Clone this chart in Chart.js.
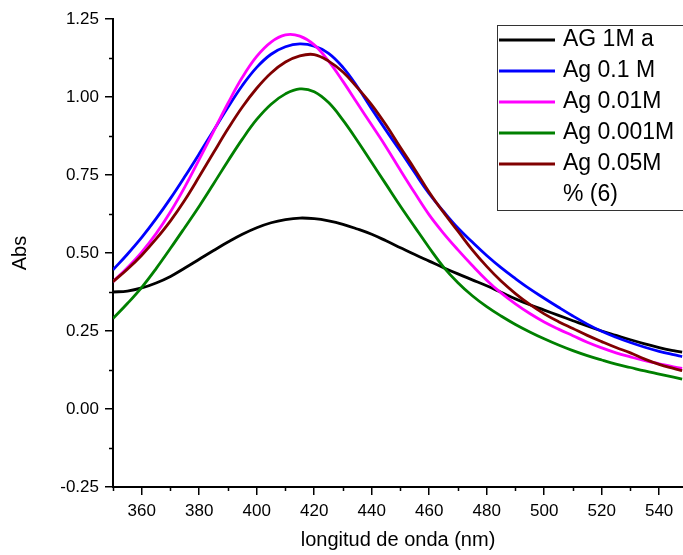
<!DOCTYPE html>
<html>
<head>
<meta charset="utf-8">
<script src="https://cdn.jsdelivr.net/npm/chart.js@4.4.1/dist/chart.umd.min.js"></script>
<style>
  body { margin: 0; background: #fff; }
  #wrap { width: 683px; height: 555px; position: relative; }
</style>
</head>
<body>
<div id="wrap"><canvas id="absChart"></canvas></div>
<script>
const longitud = [350, 355, 360, 365, 370, 375, 380, 385, 390, 395, 400, 405, 410, 415, 420, 425, 430, 435, 440, 445,
  450, 455, 460, 465, 470, 475, 480, 485, 490, 495, 500, 505, 510, 515, 520, 525, 530, 535, 540, 545, 548];

const ag1Ma = [0.375, 0.378, 0.388, 0.404, 0.425, 0.452, 0.480, 0.508, 0.535, 0.560, 0.581, 0.597, 0.607, 0.612, 0.610, 0.603, 0.592, 0.577, 0.560, 0.539,
  0.517, 0.495, 0.474, 0.453, 0.433, 0.414, 0.395, 0.374, 0.353, 0.334, 0.317, 0.300, 0.283, 0.266, 0.250, 0.236, 0.222, 0.209, 0.197, 0.187, 0.182];
const ag01M = [0.446, 0.496, 0.550, 0.610, 0.675, 0.745, 0.818, 0.893, 0.967, 1.037, 1.095, 1.137, 1.161, 1.170, 1.163, 1.140, 1.095, 1.033, 0.962, 0.893,
  0.826, 0.757, 0.690, 0.633, 0.580, 0.535, 0.492, 0.453, 0.418, 0.385, 0.355, 0.326, 0.298, 0.272, 0.249, 0.230, 0.213, 0.198, 0.185, 0.174, 0.168];
const ag001M = [0.408, 0.453, 0.503, 0.562, 0.632, 0.712, 0.800, 0.890, 0.980, 1.063, 1.130, 1.176, 1.199, 1.195, 1.167, 1.115, 1.050, 0.980, 0.910, 0.840,
  0.765, 0.692, 0.622, 0.563, 0.510, 0.460, 0.413, 0.372, 0.337, 0.306, 0.279, 0.256, 0.235, 0.214, 0.196, 0.180, 0.167, 0.155, 0.145, 0.135, 0.130];
const ag0001M = [0.290, 0.338, 0.390, 0.450, 0.515, 0.582, 0.650, 0.722, 0.795, 0.865, 0.928, 0.977, 1.010, 1.026, 1.017, 0.982, 0.926, 0.860, 0.790, 0.720,
  0.650, 0.583, 0.517, 0.455, 0.405, 0.363, 0.328, 0.298, 0.271, 0.247, 0.225, 0.205, 0.187, 0.171, 0.157, 0.144, 0.133, 0.122, 0.112, 0.102, 0.096];
const ag005M = [0.408, 0.448, 0.493, 0.545, 0.603, 0.670, 0.745, 0.822, 0.898, 0.968, 1.028, 1.077, 1.112, 1.132, 1.136, 1.115, 1.080, 1.030, 0.975, 0.910,
  0.838, 0.768, 0.695, 0.630, 0.570, 0.510, 0.457, 0.410, 0.370, 0.335, 0.305, 0.280, 0.258, 0.236, 0.216, 0.197, 0.180, 0.160, 0.143, 0.130, 0.123];

const xTicks = [360, 380, 400, 420, 440, 460, 480, 500, 520, 540];
const xMinor = [350, 370, 390, 410, 430, 450, 470, 490, 510, 530];
const yTicks = [-0.25, 0, 0.25, 0.5, 0.75, 1.0, 1.25];
const yMinor = [-0.125, 0.125, 0.375, 0.625, 0.875, 1.125];

const nombres = ["AG 1M a", "Ag 0.1 M", "Ag 0.01M", "Ag 0.001M", ["Ag 0.05M", "% (6)"]];
const colores = ["#000000", "#0000ff", "#ff00ff", "#008000", "#800000"];
const series = [ag1Ma, ag01M, ag001M, ag0001M, ag005M];

const fuente = 'Arial, "Liberation Sans", sans-serif';

// ticks menores (el eje de Chart.js solo dibuja los mayores)
const minorTicks = {
  id: 'minorTicks',
  afterDraw(chart) {
    const ctx = chart.ctx;
    const xs = chart.scales.x, ys = chart.scales.y;
    ctx.save();
    ctx.strokeStyle = '#000';
    ctx.lineWidth = 1.5;
    ctx.beginPath();
    xMinor.forEach(v => {
      const px = Math.round(xs.getPixelForValue(v)) + 0.5;
      ctx.moveTo(px, xs.top);
      ctx.lineTo(px, xs.top + 4);
    });
    yMinor.forEach(v => {
      const py = Math.round(ys.getPixelForValue(v)) + 0.5;
      ctx.moveTo(ys.right, py);
      ctx.lineTo(ys.right - 4, py);
    });
    ctx.stroke();
    ctx.restore();
  }
};

// leyenda dentro del area, arriba a la derecha
const legendBox = {
  id: 'legendBox',
  afterDraw(chart) {
    const ctx = chart.ctx;
    ctx.save();
    ctx.fillStyle = '#fff';
    ctx.fillRect(497, 25, 190, 185);
    ctx.strokeStyle = '#333';
    ctx.lineWidth = 1;
    ctx.strokeRect(497.5, 25.5, 190, 185);
    ctx.font = '23px ' + fuente;
    ctx.textBaseline = 'middle';
    ctx.fillStyle = '#000';
    let y = 40;
    nombres.forEach((n, i) => {
      ctx.strokeStyle = colores[i];
      ctx.lineWidth = 3;
      ctx.beginPath();
      ctx.moveTo(499, y);
      ctx.lineTo(555, y);
      ctx.stroke();
      const lineas = Array.isArray(n) ? n : [n];
      lineas.forEach((t, k) => ctx.fillText(t, 563, y + k * 31));
      y += 31;
    });
    ctx.restore();
  }
};

const ctx = document.getElementById("absChart").getContext("2d");
new Chart(ctx, {
  type: 'line',
  data: {
    datasets: series.map((s, i) => ({
      label: Array.isArray(nombres[i]) ? nombres[i].join(' ') : nombres[i],
      data: longitud.map((x, j) => ({ x: x, y: s[j] })),
      borderColor: colores[i],
      borderWidth: 2.8,
      pointRadius: 0,
      fill: false,
      tension: 0.4,
      order: series.length - i
    }))
  },
  options: {
    responsive: true,
    maintainAspectRatio: false,
    animation: false,
    layout: { padding: { top: 19, left: 0, right: 0, bottom: 0 } },
    plugins: {
      legend: { display: false },
      tooltip: { enabled: false }
    },
    scales: {
      x: {
        type: 'linear',
        min: 350,
        max: 548.3,
        afterBuildTicks: scale => { scale.ticks = xTicks.map(v => ({ value: v })); },
        afterFit: scale => { scale.height = 68; },
        grid: { drawOnChartArea: false, tickLength: 8, color: '#000', lineWidth: 1.5 },
        border: { color: '#000', width: 2 },
        ticks: { font: { family: fuente, size: 17 }, color: '#000', padding: 6, maxRotation: 0, autoSkip: false },
        title: { display: true, text: 'longitud de onda (nm)', font: { family: fuente, size: 20 }, color: '#000', padding: { top: 0, bottom: 3 } }
      },
      y: {
        min: -0.25,
        max: 1.25,
        afterBuildTicks: scale => { scale.ticks = yTicks.map(v => ({ value: v })); },
        afterFit: scale => { scale.width = 113; },
        grid: { drawOnChartArea: false, tickLength: 8, color: '#000', lineWidth: 1.5 },
        border: { color: '#000', width: 2 },
        ticks: { font: { family: fuente, size: 17 }, color: '#000', padding: 6, callback: v => v.toFixed(2) },
        title: { display: true, text: 'Abs', font: { family: fuente, size: 20 }, color: '#000', padding: { top: 8, bottom: 0 } }
      }
    }
  },
  plugins: [minorTicks, legendBox]
});
</script>
</body>
</html>
